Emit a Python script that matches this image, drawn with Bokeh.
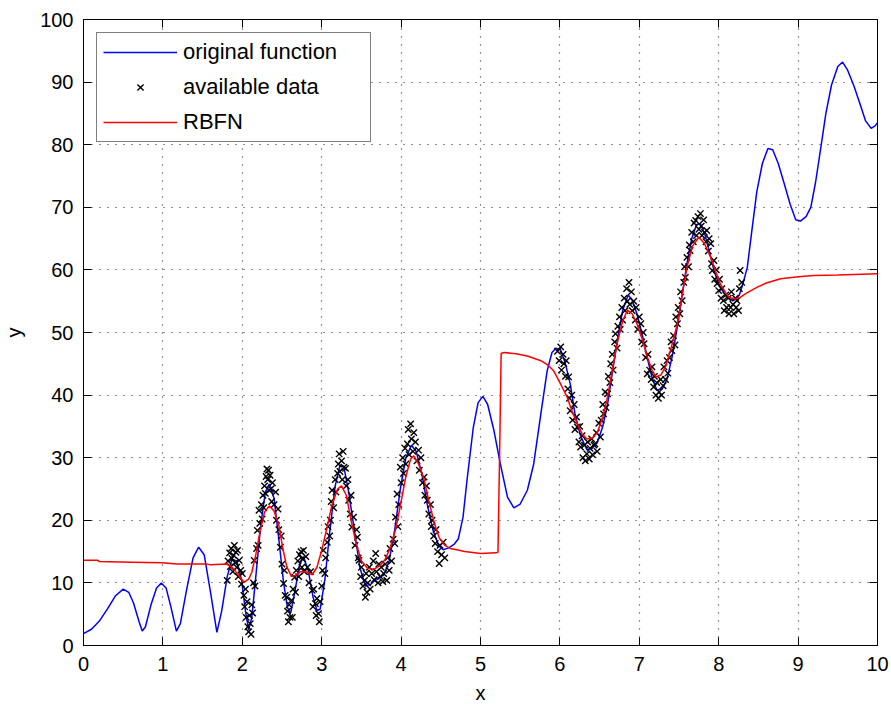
from bokeh.plotting import figure
from bokeh.models import Range1d, LinearAxis, Legend, LegendItem, FixedTicker, CustomJSTickFormatter
from bokeh.embed import file_html
from bokeh.resources import INLINE

# ---------------- data ----------------
orig_x = [0.00, 0.10, 0.20, 0.30, 0.40, 0.50, 0.57, 0.63, 0.70, 0.74, 0.78, 0.85, 0.92, 0.98,
          1.04, 1.10, 1.17, 1.22, 1.30, 1.38, 1.45, 1.52, 1.60, 1.68, 1.74, 1.81, 1.87, 1.93,
          1.99, 2.04, 2.08, 2.12, 2.17, 2.23, 2.29, 2.34, 2.40, 2.46, 2.52, 2.57, 2.61, 2.66,
          2.72, 2.77, 2.83, 2.89, 2.94, 2.98, 3.04, 3.10, 3.17, 3.23, 3.28, 3.34, 3.41, 3.48,
          3.55, 3.62, 3.70, 3.78, 3.85, 3.92, 3.99, 4.06, 4.13, 4.19, 4.26, 4.33, 4.40, 4.47,
          4.53, 4.60, 4.67, 4.72, 4.78, 4.83, 4.91, 4.97, 5.03, 5.09, 5.17, 5.25, 5.34, 5.42,
          5.50, 5.59, 5.67, 5.76, 5.84, 5.90, 5.95, 6.01, 6.07, 6.13, 6.19, 6.26, 6.34, 6.41,
          6.47, 6.54, 6.60, 6.66, 6.72, 6.79, 6.86, 6.91, 6.97, 7.04, 7.10, 7.16, 7.22, 7.29,
          7.35, 7.42, 7.48, 7.54, 7.60, 7.66, 7.72, 7.77, 7.83, 7.89, 7.95, 8.02, 8.10, 8.19,
          8.26, 8.31, 8.36, 8.42, 8.48, 8.55, 8.62, 8.68, 8.75, 8.82, 8.90, 8.97, 9.03, 9.10,
          9.16, 9.22, 9.28, 9.35, 9.42, 9.50, 9.56, 9.62, 9.70, 9.78, 9.85, 9.92, 9.97, 10.00]
orig_y = [1.9, 2.6, 3.9, 5.8, 7.9, 9.0, 8.5, 6.8, 3.8, 2.3, 3.0, 6.5, 9.2, 10.0,
          9.2, 6.2, 2.3, 3.5, 9.0, 14.0, 15.7, 14.5, 8.5, 2.1, 5.5, 11.0, 13.8, 13.5,
          10.5, 5.5, 2.5, 4.5, 11.0, 19.0, 24.5, 25.8, 23.5, 17.0, 10.0, 6.0, 5.2, 8.5,
          12.8, 14.2, 12.0, 7.8, 5.6, 5.8, 10.5, 18.0, 25.5, 28.8, 28.5, 24.5, 18.5, 12.5,
          9.5, 9.8, 10.8, 11.2, 13.5, 18.5, 25.0, 30.0, 32.0, 31.0, 27.5, 22.5, 18.5, 16.0,
          15.3, 15.6, 16.2, 17.0, 20.5, 26.4, 34.9, 38.8, 39.8, 38.5, 34.3, 29.0, 23.7, 22.0,
          22.6, 24.8, 29.0, 37.0, 43.9, 46.8, 47.5, 47.2, 45.0, 41.8, 37.0, 33.5, 31.3, 31.5,
          32.4, 35.0, 38.5, 43.5, 48.5, 53.5, 56.0, 55.2, 53.0, 49.5, 46.0, 42.8, 40.8, 41.0,
          42.6, 46.5, 51.0, 56.0, 61.0, 65.0, 67.2, 67.4, 65.5, 62.5, 59.5, 57.2, 55.7, 55.1,
          56.0, 58.0, 60.4, 66.5, 72.5, 77.0, 79.4, 79.2, 77.0, 74.0, 70.5, 68.0, 67.8, 68.5,
          70.0, 74.0, 79.0, 85.0, 89.5, 92.5, 93.2, 92.0, 89.5, 86.5, 83.8, 82.6, 83.0, 83.5]

rbfn_x = [0.00, 0.18, 0.20, 0.60, 1.00, 1.17, 1.55, 1.60, 1.80, 1.87, 1.95, 2.02, 2.08, 2.12,
          2.17, 2.22, 2.28, 2.34, 2.40, 2.46, 2.51, 2.56, 2.62, 2.67, 2.73, 2.80, 2.88, 2.94,
          3.00, 3.07, 3.13, 3.20, 3.25, 3.31, 3.37, 3.43, 3.50, 3.58, 3.66, 3.74, 3.80, 3.86,
          3.93, 3.99, 4.06, 4.12, 4.16, 4.22, 4.29, 4.35, 4.42, 4.48, 4.55, 4.62, 4.70, 4.80,
          5.00, 5.19, 5.22, 5.24, 5.26, 5.30, 5.45, 5.60, 5.76, 5.85, 5.92, 6.00, 6.09, 6.16,
          6.22, 6.28, 6.34, 6.41, 6.47, 6.54, 6.60, 6.66, 6.72, 6.79, 6.85, 6.91, 6.97, 7.04,
          7.10, 7.16, 7.21, 7.27, 7.33, 7.40, 7.48, 7.54, 7.60, 7.67, 7.75, 7.82, 7.90, 7.96,
          8.02, 8.08, 8.13, 8.20, 8.27, 8.35, 8.48, 8.60, 8.78, 9.00, 9.20, 9.50, 10.00]
rbfn_y = [13.6, 13.6, 13.4, 13.3, 13.2, 13.0, 13.0, 12.9, 13.0, 12.5, 11.3, 10.1, 10.6, 11.7,
          14.5, 18.0, 21.3, 22.3, 21.5, 19.2, 15.5, 12.6, 11.0, 11.2, 11.8, 11.8, 11.3, 12.5,
          15.2, 19.0, 22.5, 25.0, 25.5, 24.0, 20.0, 16.5, 13.5, 12.3, 12.2, 12.8, 13.8, 15.5,
          18.5, 22.3, 27.0, 29.8, 30.3, 29.0, 26.5, 23.0, 19.5, 17.2, 16.0, 15.5, 15.3, 15.0,
          14.7, 14.8, 14.9, 30.0, 46.7, 46.8, 46.6, 46.2, 45.5, 44.8, 43.9, 42.0, 39.7, 37.2,
          35.4, 33.8, 33.0, 33.2, 34.0, 36.5, 39.7, 44.0, 48.2, 51.8, 53.6, 53.0, 51.4, 48.8,
          46.1, 44.0, 42.9, 43.2, 44.5, 47.5, 51.4, 56.0, 60.4, 63.8, 65.2, 64.2, 62.0, 59.8,
          57.8, 56.5, 55.6, 55.4, 55.6, 56.3, 57.2, 57.9, 58.6, 58.9, 59.1, 59.2, 59.4]

data_x = [1.81, 1.82, 1.84, 1.85, 1.86, 1.87, 1.88, 1.89, 1.90, 1.91, 1.92, 1.93, 1.94, 1.95,
          1.96, 1.98, 1.99, 2.00, 2.02, 2.03, 2.04, 2.05, 2.06, 2.07, 2.08, 2.09, 2.10, 2.11,
          2.12, 2.13, 2.14, 2.15, 2.16, 2.18, 2.19, 2.20, 2.21, 2.22, 2.24, 2.25, 2.26, 2.27,
          2.28, 2.29, 2.30, 2.31, 2.32, 2.33, 2.34, 2.35, 2.36, 2.37, 2.38, 2.40, 2.42, 2.43,
          2.45, 2.46, 2.48, 2.49, 2.50, 2.52, 2.53, 2.54, 2.56, 2.57, 2.58, 2.59, 2.60, 2.62,
          2.63, 2.64, 2.66, 2.67, 2.68, 2.70, 2.71, 2.72, 2.74, 2.75, 2.76, 2.77, 2.78, 2.80,
          2.82, 2.84, 2.86, 2.88, 2.89, 2.90, 2.92, 2.93, 2.94, 2.96, 2.97, 2.98, 3.00, 3.01,
          3.02, 3.04, 3.05, 3.07, 3.08, 3.10, 3.11, 3.12, 3.13, 3.15, 3.17, 3.18, 3.20, 3.21,
          3.22, 3.23, 3.25, 3.26, 3.27, 3.28, 3.30, 3.31, 3.33, 3.34, 3.36, 3.37, 3.38, 3.40,
          3.42, 3.44, 3.45, 3.46, 3.47, 3.49, 3.50, 3.52, 3.54, 3.55, 3.56, 3.57, 3.58, 3.60,
          3.61, 3.63, 3.65, 3.66, 3.68, 3.69, 3.71, 3.72, 3.74, 3.75, 3.77, 3.78, 3.80, 3.82,
          3.83, 3.85, 3.86, 3.88, 3.90, 3.92, 3.93, 3.95, 3.96, 3.97, 3.99, 4.00, 4.02, 4.03,
          4.05, 4.06, 4.08, 4.09, 4.10, 4.12, 4.13, 4.15, 4.16, 4.18, 4.20, 4.22, 4.23, 4.25,
          4.27, 4.29, 4.30, 4.32, 4.33, 4.35, 4.37, 4.38, 4.39, 4.41, 4.43, 4.44, 4.46, 4.48,
          4.49, 4.51, 4.53, 4.55,
          5.97, 5.99, 6.01, 6.02, 6.04, 6.05, 6.07, 6.08, 6.10, 6.11, 6.12, 6.13, 6.15, 6.16,
          6.18, 6.19, 6.21, 6.22, 6.24, 6.25, 6.26, 6.28, 6.29, 6.31, 6.32, 6.34, 6.35, 6.37,
          6.38, 6.40, 6.41, 6.43, 6.44, 6.46, 6.47, 6.49, 6.51, 6.52, 6.54, 6.55, 6.57, 6.58,
          6.60, 6.61, 6.63, 6.64, 6.66, 6.67, 6.69, 6.70, 6.72, 6.73, 6.75, 6.76, 6.78, 6.79,
          6.81, 6.82, 6.84, 6.85, 6.87, 6.88, 6.90, 6.91, 6.93, 6.95, 6.96, 6.98, 7.00, 7.02,
          7.03, 7.05, 7.06, 7.08, 7.10, 7.11, 7.13, 7.15, 7.16, 7.18, 7.19, 7.21, 7.22, 7.24,
          7.25, 7.27, 7.28, 7.30, 7.31, 7.33, 7.35, 7.36, 7.38, 7.40, 7.41, 7.43, 7.45, 7.46,
          7.48, 7.49, 7.51, 7.52, 7.54, 7.56, 7.57, 7.58, 7.60, 7.62, 7.63, 7.64, 7.66, 7.68,
          7.69, 7.71, 7.72, 7.74, 7.75, 7.77, 7.78, 7.79, 7.81, 7.82, 7.84, 7.85, 7.87, 7.88,
          7.90, 7.91, 7.92, 7.94, 7.95, 7.97, 7.98, 8.00, 8.01, 8.03, 8.04, 8.06, 8.07, 8.09,
          8.10, 8.12, 8.13, 8.15, 8.16, 8.18, 8.19, 8.21, 8.22, 8.23, 8.25, 8.26, 8.27, 8.29]
data_y = [10.4, 13.5, 14.8, 12.6, 15.5, 13.9, 11.8, 14.4, 16.0, 13.2, 14.9, 12.5, 15.2, 11.0,
          13.6, 12.0, 9.8, 11.5, 8.0, 6.2, 9.0, 4.5, 7.0, 3.0, 2.2, 4.8, 3.5, 1.8,
          6.5, 5.2, 10.0, 13.6, 9.5, 15.5, 18.4, 16.0, 21.6, 19.5, 22.5, 20.2, 24.0, 22.0,
          25.5, 24.3, 27.0, 28.2, 26.5, 28.0, 24.8, 27.2, 25.0, 23.0, 26.0, 22.5, 24.5, 20.0,
          21.8, 18.5, 15.7, 17.5, 13.0, 9.9, 12.0, 8.0, 7.7, 5.5, 3.8, 6.5, 4.5, 7.2,
          4.5, 9.0, 10.9, 8.5, 12.0, 13.5, 11.0, 14.5, 15.0, 12.5, 13.8, 15.2, 11.8, 14.2,
          12.5, 10.0, 11.8, 8.8, 6.2, 9.0, 6.7, 4.8, 7.5, 5.1, 3.8, 7.0, 9.5, 12.0,
          15.2, 11.5, 14.0, 16.5, 19.0, 17.5, 20.0, 23.0, 24.8, 22.0, 26.5, 24.5, 27.5, 29.0,
          30.6, 27.8, 29.5, 26.5, 31.0, 28.5, 28.3, 25.5, 26.5, 23.2, 21.0, 24.0, 18.9, 20.5,
          16.0, 18.5, 17.3, 14.0, 13.6, 11.0, 12.5, 9.5, 10.4, 7.7, 11.5, 8.5, 10.0, 12.5,
          9.0, 11.5, 13.5, 10.5, 14.7, 11.8, 10.0, 13.0, 11.0, 12.5, 10.2, 11.5, 13.0, 10.4,
          14.0, 12.0, 15.5, 13.5, 17.0, 16.3, 20.5, 24.2, 19.0, 22.5, 28.5, 26.0, 30.0, 27.5,
          31.5, 29.0, 32.2, 34.5, 30.5, 35.4, 33.0, 31.0, 34.0, 32.5, 29.5, 31.2, 28.0, 30.0,
          26.0, 26.9, 24.0, 25.5, 23.2, 21.0, 22.5, 19.0, 20.0, 17.5, 16.3, 18.5, 15.0, 13.1,
          16.0, 14.5, 16.5, 14.0,
          47.0, 45.5, 47.7, 44.0, 46.5, 45.0, 43.0, 45.5, 41.0, 42.9, 39.5, 37.5, 40.0, 36.0,
          38.5, 34.5, 36.5, 34.9, 32.5, 35.0, 31.7, 33.5, 30.0, 32.0, 29.5, 30.6, 32.5, 29.8,
          31.5, 33.0, 30.5, 32.0, 32.2, 34.0, 31.0, 35.5, 33.3, 36.0, 38.5, 37.0, 40.5, 38.0,
          40.2, 43.0, 42.0, 45.0, 46.5, 44.0, 48.5, 49.8, 47.5, 51.0, 52.5, 50.5, 54.0, 52.0,
          55.5, 53.5, 57.0, 55.0, 58.0, 54.5, 56.5, 53.5, 55.0, 52.0, 54.0, 50.5, 52.5, 51.4,
          48.5, 50.0, 48.2, 46.0, 43.4, 46.5, 44.0, 42.5, 44.5, 41.3, 43.0, 40.0, 42.0, 39.5,
          40.5, 42.5, 40.0, 41.5, 44.5, 42.5, 45.5, 43.5, 46.0, 48.5, 47.1, 49.5, 48.0, 52.5,
          51.4, 54.0, 53.0, 56.5, 55.1, 58.0, 60.5, 58.8, 62.0, 60.5, 64.0, 63.1, 66.0, 64.5,
          67.5, 67.9, 65.5, 68.5, 66.5, 69.0, 67.0, 65.5, 68.0, 66.0, 64.5, 66.3, 63.0, 65.0,
          64.2, 61.0, 59.9, 61.5, 58.5, 60.0, 57.8, 56.7, 58.5, 55.5, 57.0, 55.1, 53.5, 56.0,
          54.0, 55.5, 53.0, 54.0, 56.5, 54.5, 53.0, 55.5, 54.0, 55.1, 53.5, 57.0, 59.9, 58.0]

x_ticks = [0, 1, 2, 3, 4, 5, 6, 7, 8, 9, 10]
y_ticks = [0, 10, 20, 30, 40, 50, 60, 70, 80, 90, 100]
legend_labels = ["original function", "available data", "RBFN"]

FONT = "Liberation Sans"

p = figure(width=891, height=706, x_range=Range1d(0, 10), y_range=Range1d(0, 100),
           output_backend="svg", toolbar_location=None,
           min_border_left=83, min_border_right=14, min_border_top=19, min_border_bottom=61)
p.background_fill_color = "white"
p.border_fill_color = "white"
p.outline_line_color = "black"
p.outline_line_width = 1

r_orig = p.line(orig_x, orig_y, line_color="#0000FF", line_width=1.5)
r_data = p.scatter(data_x, data_y, marker="x", size=9, line_color="black", line_width=1.4)
r_rbfn = p.line(rbfn_x, rbfn_y, line_color="#FF0000", line_width=1.5)

def style_axis(ax, ticks):
    ax.ticker = FixedTicker(ticks=ticks)
    ax.axis_line_color = "black"
    ax.axis_line_width = 1
    ax.major_tick_in = 8
    ax.major_tick_out = 0
    ax.major_tick_line_color = "black"
    ax.minor_tick_line_color = None
    ax.major_label_text_font = FONT
    ax.major_label_text_font_size = "20px"
    ax.major_label_text_color = "black"
    ax.axis_label_text_font = FONT
    ax.axis_label_text_font_size = "20px"
    ax.axis_label_text_font_style = "normal"
    ax.axis_label_text_color = "black"

style_axis(p.xaxis[0], x_ticks)
style_axis(p.yaxis[0], y_ticks)
p.xaxis[0].axis_label = "x"
p.yaxis[0].axis_label = "y"
p.xaxis[0].major_label_standoff = 11
p.yaxis[0].major_label_standoff = 10
p.xaxis[0].axis_label_standoff = 8
p.yaxis[0].axis_label_standoff = 12

blank = CustomJSTickFormatter(code="return ''")
top = LinearAxis(formatter=blank)
right = LinearAxis(formatter=blank)
style_axis(top, x_ticks)
style_axis(right, y_ticks)
top.major_label_standoff = 0
right.major_label_standoff = 0
p.add_layout(top, "above")
p.add_layout(right, "right")

p.xgrid[0].ticker = FixedTicker(ticks=x_ticks)
p.ygrid[0].ticker = FixedTicker(ticks=y_ticks)
for g in (p.xgrid[0], p.ygrid[0]):
    g.grid_line_color = "black"
    g.grid_line_alpha = 0.85
    g.grid_line_width = 1.2
    g.grid_line_dash = "1 7"

legend = Legend(items=[LegendItem(label=legend_labels[0], renderers=[r_orig]),
                       LegendItem(label=legend_labels[1], renderers=[r_data]),
                       LegendItem(label=legend_labels[2], renderers=[r_rbfn])],
                location="top_left")
legend.margin = 13
legend.padding = 6
legend.spacing = 9
legend.glyph_width = 74
legend.glyph_height = 22
legend.label_height = 22
legend.label_width = 181
legend.label_standoff = 6
legend.label_text_font = FONT
legend.label_text_font_size = "22px"
legend.label_text_color = "black"
legend.border_line_color = "black"
legend.border_line_width = 1
legend.background_fill_color = "white"
legend.background_fill_alpha = 1
p.add_layout(legend, "center")

open("out.html", "w").write(file_html(p, INLINE))
